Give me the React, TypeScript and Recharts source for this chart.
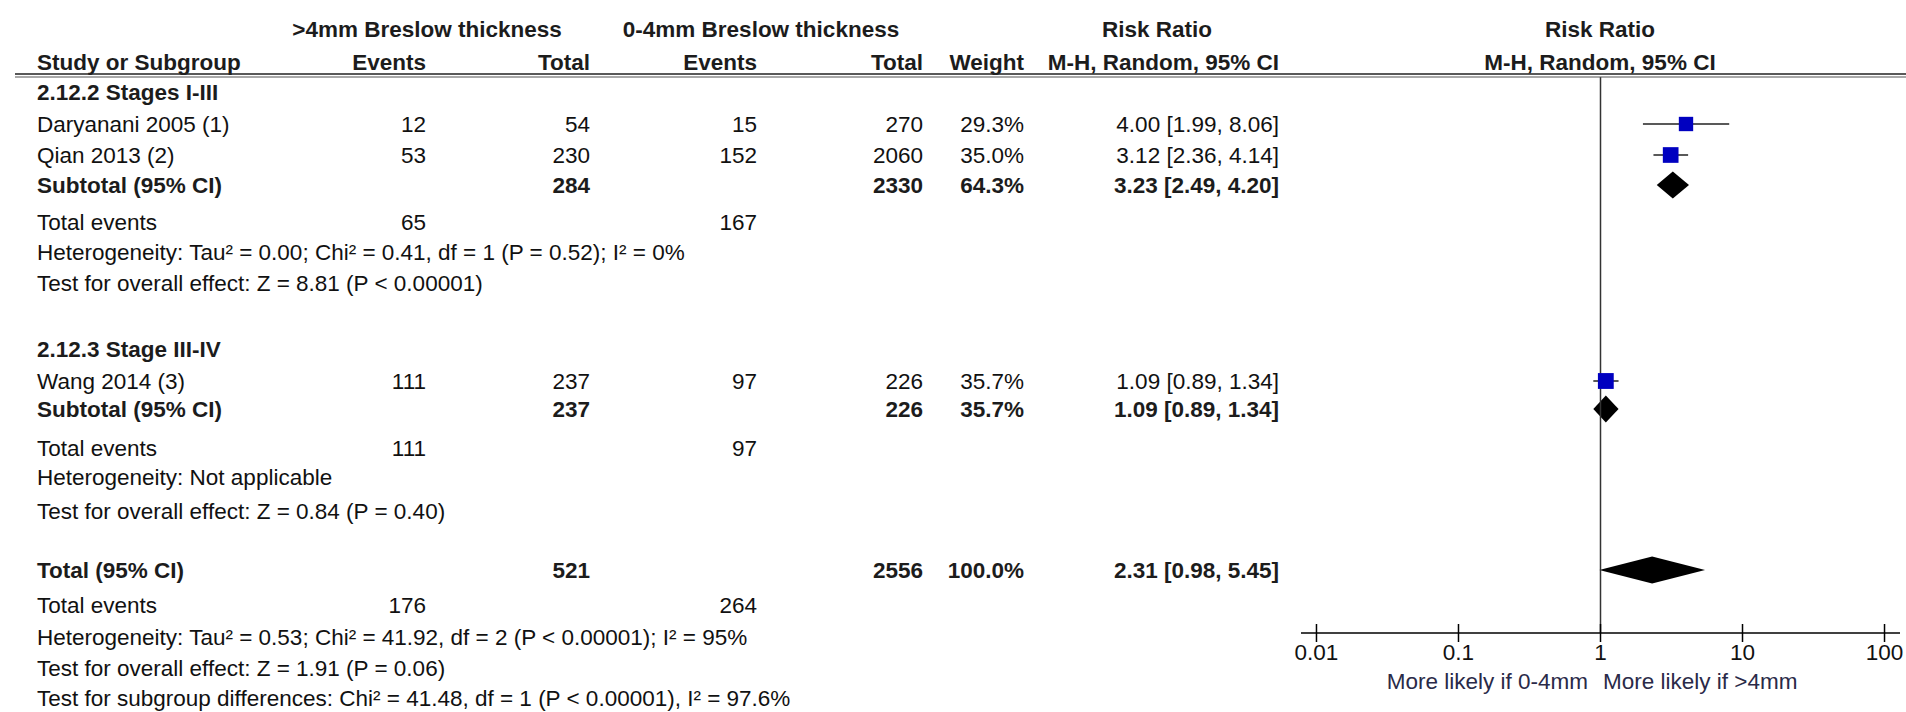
import React from 'react'
import {
  ComposedChart,
  XAxis,
  YAxis,
  Line,
  Area,
  Scatter,
  ReferenceLine,
} from 'recharts'

// ---- data ----
const groupTitles = ['2.12.2 Stages I-III', '2.12.3 Stage III-IV']

const studies = ['Daryanani 2005 (1)', 'Qian 2013 (2)', 'Wang 2014 (3)']
const eventsThick = [12, 53, 111]
const totalThick = [54, 230, 237]
const eventsThin = [15, 152, 97]
const totalThin = [270, 2060, 226]
const weights = [29.3, 35.0, 35.7]
const rr = [4.0, 3.12, 1.09]
const rrLow = [1.99, 2.36, 0.89]
const rrHigh = [8.06, 4.14, 1.34]

const pooledLabels = ['Subtotal (95% CI)', 'Subtotal (95% CI)', 'Total (95% CI)']
const pooledTotalThick = [284, 237, 521]
const pooledTotalThin = [2330, 226, 2556]
const pooledWeight = [64.3, 35.7, 100.0]
const pooledRR = [3.23, 1.09, 2.31]
const pooledLow = [2.49, 0.89, 0.98]
const pooledHigh = [4.2, 1.34, 5.45]
const pooledEventsThick = [65, 111, 176]
const pooledEventsThin = [167, 97, 264]

const heterogeneity = [
  'Heterogeneity: Tau² = 0.00; Chi² = 0.41, df = 1 (P = 0.52); I² = 0%',
  'Heterogeneity: Not applicable',
  'Heterogeneity: Tau² = 0.53; Chi² = 41.92, df = 2 (P < 0.00001); I² = 95%',
]
const overallEffect = [
  'Test for overall effect: Z = 8.81 (P < 0.00001)',
  'Test for overall effect: Z = 0.84 (P = 0.40)',
  'Test for overall effect: Z = 1.91 (P = 0.06)',
]
const subgroupNote = 'Test for subgroup differences: Chi² = 41.48, df = 1 (P < 0.00001), I² = 97.6%'

const tickValues = [0.01, 0.1, 1, 10, 100]
const tickLabels = ['0.01', '0.1', '1', '10', '100']
const favourLabels = ['More likely if 0-4mm', 'More likely if >4mm']

// ---- layout ----
const W = 1906
const H = 712
const FONT = '"Liberation Sans", Arial, sans-serif'
const FS = 22.5
const PLOT_LEFT = 1301
const PLOT_RIGHT = 1900
const PLOT_TOP = 77
const AXIS_Y = 633
const PAD_DECADES = 0.109
const xDomain = [0.01 / Math.pow(10, PAD_DECADES), 100 * Math.pow(10, PAD_DECADES)]

// table row centres
const headY = [29, 62]
const groupY = [92, 349]
const studyY = [124, 155, 381]
const pooledY = [185, 409, 570]
const eventsY = [222, 448, 605]
const hetY = [252, 477, 637]
const effectY = [283, 511, 668]
const subgroupY = 698
const favourY = 681

// column anchors
const COL_STUDY = 37
const COL_EV1 = 426
const COL_TOT1 = 590
const COL_EV2 = 757
const COL_TOT2 = 923
const COL_WEIGHT = 1024
const COL_CI = 1279

const DIAMOND_HALF = 13.5

const fmtCI = (m: number, l: number, h: number) =>
  `${m.toFixed(2)} [${l.toFixed(2)}, ${h.toFixed(2)}]`

function T({
  x,
  y,
  anchor = 'start',
  bold = false,
  fill,
  children,
}: {
  x: number
  y: number
  anchor?: 'start' | 'middle' | 'end'
  bold?: boolean
  fill?: string
  children: React.ReactNode
}) {
  return (
    <text
      x={x}
      y={y + 8}
      textAnchor={anchor}
      fontFamily={FONT}
      fontSize={FS}
      fontWeight={bold ? 700 : 400}
      fill={fill ?? (bold ? '#1c1c1c' : '#111')}
    >
      {children}
    </text>
  )
}

const Square = (props: any) => {
  const { cx, cy } = props
  const w = props.payload?.w ?? props.w
  const s = 2.65 * Math.sqrt(w)
  return <rect x={cx - s / 2} y={cy - s / 2} width={s} height={s} fill="#0000c0" />
}

const AxisTick = (props: any) => {
  const { x, y, payload } = props
  const label = tickLabels[tickValues.indexOf(payload.value)]
  return (
    <g>
      <line x1={x} x2={x} y1={y - 9} y2={y + 9} stroke="#000" strokeWidth={1.5} />
      <text x={x} y={y + 27} textAnchor="middle" fontFamily={FONT} fontSize={FS} fill="#111">
        {label}
      </text>
    </g>
  )
}

export default function App() {
  const squares = studies.map((_, i) => ({ rr: rr[i], y: studyY[i], w: weights[i] }))
  const ciLines = studies.map((_, i) => [
    { rr: rrLow[i], y: studyY[i] },
    { rr: rrHigh[i], y: studyY[i] },
  ])
  const diamonds = pooledRR.map((m, i) => [
    { rr: pooledLow[i], band: [pooledY[i], pooledY[i]] },
    { rr: m, band: [pooledY[i] - DIAMOND_HALF, pooledY[i] + DIAMOND_HALF] },
    { rr: pooledHigh[i], band: [pooledY[i], pooledY[i]] },
  ])

  return (
    <div
      style={{
        position: 'absolute',
        left: 0,
        top: 0,
        width: W,
        height: H,
        background: '#fff',
        overflow: 'hidden',
      }}
    >
      <div style={{ position: 'absolute', left: 0, top: 0 }}>
        <ComposedChart
          width={W}
          height={H}
          margin={{ top: PLOT_TOP, right: W - PLOT_RIGHT, bottom: 0, left: PLOT_LEFT }}
        >
          <XAxis
            type="number"
            dataKey="rr"
            scale="log"
            domain={xDomain}
            allowDataOverflow
            ticks={tickValues}
            interval={0}
            height={H - AXIS_Y}
            tickSize={0}
            tickMargin={0}
            tickLine={false}
            axisLine={{ stroke: '#000', strokeWidth: 1.5 }}
            tick={(p: any) => <AxisTick {...p} />}
          />
          <YAxis type="number" dataKey="y" domain={[PLOT_TOP, AXIS_Y]} reversed hide allowDataOverflow />
          <ReferenceLine x={1} stroke="#333" strokeWidth={1.5} />
          {ciLines.map((d, i) => (
            <Line
              key={`ci-${i}`}
              data={d}
              dataKey="y"
              stroke="#222"
              strokeWidth={1.5}
              dot={false}
              activeDot={false}
              isAnimationActive={false}
            />
          ))}
          {diamonds.map((d, i) => (
            <Area
              key={`dm-${i}`}
              data={d}
              dataKey="band"
              type="linear"
              stroke="none"
              fill="#000"
              fillOpacity={1}
              dot={false}
              activeDot={false}
              isAnimationActive={false}
            />
          ))}
          <Scatter data={squares} shape={<Square />} isAnimationActive={false} />
        </ComposedChart>
      </div>

      <svg
        width={W}
        height={H}
        style={{ position: 'absolute', left: 0, top: 0, pointerEvents: 'none' }}
      >
        {/* column headers */}
        <T x={427} y={headY[0]} anchor="middle" bold>&gt;4mm Breslow thickness</T>
        <T x={761} y={headY[0]} anchor="middle" bold>0-4mm Breslow thickness</T>
        <T x={1157} y={headY[0]} anchor="middle" bold>Risk Ratio</T>
        <T x={1600} y={headY[0]} anchor="middle" bold>Risk Ratio</T>
        <T x={COL_STUDY} y={headY[1]} bold>Study or Subgroup</T>
        <T x={COL_EV1} y={headY[1]} anchor="end" bold>Events</T>
        <T x={COL_TOT1} y={headY[1]} anchor="end" bold>Total</T>
        <T x={COL_EV2} y={headY[1]} anchor="end" bold>Events</T>
        <T x={COL_TOT2} y={headY[1]} anchor="end" bold>Total</T>
        <T x={COL_WEIGHT} y={headY[1]} anchor="end" bold>Weight</T>
        <T x={COL_CI} y={headY[1]} anchor="end" bold>M-H, Random, 95% CI</T>
        <T x={1600} y={headY[1]} anchor="middle" bold>M-H, Random, 95% CI</T>
        <line x1={15} x2={W} y1={74} y2={74} stroke="#222" strokeWidth={1.5} />
        <line x1={15} x2={W} y1={77} y2={77} stroke="#555" strokeWidth={1.2} />

        {groupTitles.map((g, i) => (
          <T key={g} x={COL_STUDY} y={groupY[i]} bold>{g}</T>
        ))}

        {studies.map((s, i) => (
          <g key={s}>
            <T x={COL_STUDY} y={studyY[i]}>{s}</T>
            <T x={COL_EV1} y={studyY[i]} anchor="end">{eventsThick[i]}</T>
            <T x={COL_TOT1} y={studyY[i]} anchor="end">{totalThick[i]}</T>
            <T x={COL_EV2} y={studyY[i]} anchor="end">{eventsThin[i]}</T>
            <T x={COL_TOT2} y={studyY[i]} anchor="end">{totalThin[i]}</T>
            <T x={COL_WEIGHT} y={studyY[i]} anchor="end">{weights[i].toFixed(1)}%</T>
            <T x={COL_CI} y={studyY[i]} anchor="end">{fmtCI(rr[i], rrLow[i], rrHigh[i])}</T>
          </g>
        ))}

        {pooledLabels.map((s, i) => (
          <g key={`p-${i}`}>
            <T x={COL_STUDY} y={pooledY[i]} bold>{s}</T>
            <T x={COL_TOT1} y={pooledY[i]} anchor="end" bold>{pooledTotalThick[i]}</T>
            <T x={COL_TOT2} y={pooledY[i]} anchor="end" bold>{pooledTotalThin[i]}</T>
            <T x={COL_WEIGHT} y={pooledY[i]} anchor="end" bold>{pooledWeight[i].toFixed(1)}%</T>
            <T x={COL_CI} y={pooledY[i]} anchor="end" bold>
              {fmtCI(pooledRR[i], pooledLow[i], pooledHigh[i])}
            </T>
            <T x={COL_STUDY} y={eventsY[i]}>Total events</T>
            <T x={COL_EV1} y={eventsY[i]} anchor="end">{pooledEventsThick[i]}</T>
            <T x={COL_EV2} y={eventsY[i]} anchor="end">{pooledEventsThin[i]}</T>
            <T x={COL_STUDY} y={hetY[i]}>{heterogeneity[i]}</T>
            <T x={COL_STUDY} y={effectY[i]}>{overallEffect[i]}</T>
          </g>
        ))}
        <T x={COL_STUDY} y={subgroupY}>{subgroupNote}</T>

        <T x={1588} y={favourY} anchor="end" fill="#2a2a48">{favourLabels[0]}</T>
        <T x={1603} y={favourY} fill="#2a2a48">{favourLabels[1]}</T>
      </svg>
    </div>
  )
}
